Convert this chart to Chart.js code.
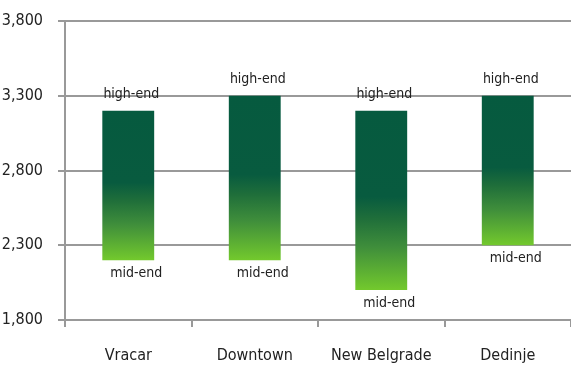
<!DOCTYPE html>
<html>
<head>
<meta charset="utf-8">
<script src="https://cdn.jsdelivr.net/npm/chart.js@4"></script>
<style>
  html, body { margin: 0; padding: 0; background: #fff; }
  #wrap { width: 571px; height: 366px; }
</style>
</head>
<body>
<div id="wrap"><canvas id="priceChart"></canvas></div>
<script>
// price ranges per district
const districts = ['Vracar', 'Downtown', 'New Belgrade', 'Dedinje'];
const midEnd = [2200, 2200, 2000, 2300];
const highEnd = [3200, 3300, 3200, 3300];
const yTicks = [1800, 2300, 2800, 3300, 3800];
const topLabel = 'high-end';
const bottomLabel = 'mid-end';

const FONT = "'DejaVu Sans Condensed', 'DejaVu Sans', sans-serif";

// per-bar vertical gradient, dark on the upper half, light green at the bottom
function barGradient(context) {
    const chart = context.chart;
    if (!chart.chartArea) return '#075a3f';
    const raw = context.raw;
    const y = chart.scales.y;
    const top = y.getPixelForValue(raw[1]);
    const bottom = y.getPixelForValue(raw[0]);
    const g = chart.ctx.createLinearGradient(0, top, 0, bottom);
    g.addColorStop(0, '#065a3f');
    g.addColorStop(0.48, '#085b3f');
    g.addColorStop(0.6, '#1f6e3a');
    g.addColorStop(0.76, '#3f8e3b');
    g.addColorStop(1, '#73c92d');
    return g;
}

const rangeLabels = {
    id: 'rangeLabels',
    afterDatasetsDraw(chart) {
        const ctx = chart.ctx;
        const meta = chart.getDatasetMeta(0);
        ctx.save();
        ctx.font = '14px ' + FONT;
        ctx.fillStyle = '#222';
        ctx.textAlign = 'center';
        meta.data.forEach(bar => {
            ctx.textBaseline = 'bottom';
            ctx.fillText(topLabel, bar.x + 3, bar.y - 9);
            ctx.textBaseline = 'top';
            ctx.fillText(bottomLabel, bar.x + 8, bar.base + 6);
        });
        ctx.restore();
    }
};

const chartData = districts.map((d, i) => [midEnd[i], highEnd[i]]);

new Chart(document.getElementById('priceChart'), {
    type: 'bar',
    data: {
        labels: districts,
        datasets: [{
            data: chartData,
            backgroundColor: barGradient,
            borderWidth: 0,
            borderSkipped: false,
            barPercentage: 0.41,
            categoryPercentage: 1
        }]
    },
    options: {
        responsive: true,
        maintainAspectRatio: false,
        animation: false,
        layout: { padding: { top: 21, right: 0, left: 0, bottom: 0 } },
        plugins: {
            legend: { display: false },
            tooltip: { enabled: false }
        },
        scales: {
            x: {
                offset: true,
                border: { color: '#999', width: 2 },
                grid: {
                    offset: true,
                    drawOnChartArea: false,
                    drawTicks: true,
                    tickLength: 7,
                    color: '#999',
                    lineWidth: 2
                },
                ticks: {
                    color: '#222',
                    padding: 19,
                    font: { family: FONT, size: 16 }
                },
                afterFit(scale) { scale.height = 46; }
            },
            y: {
                min: 1800,
                max: 3800,
                border: { color: '#999', width: 2 },
                grid: {
                    color: '#999',
                    lineWidth: 2,
                    tickLength: 7
                },
                afterBuildTicks(scale) {
                    scale.ticks = yTicks.map(v => ({ value: v }));
                },
                ticks: {
                    color: '#222',
                    padding: 15,
                    font: { family: FONT, size: 16 },
                    callback: v => v.toLocaleString('en-US')
                },
                afterFit(scale) {
                    scale.width = 65;
                    scale.paddingTop = 0;
                    scale.paddingBottom = 0;
                }
            }
        }
    },
    plugins: [rangeLabels]
});
</script>
</body>
</html>
